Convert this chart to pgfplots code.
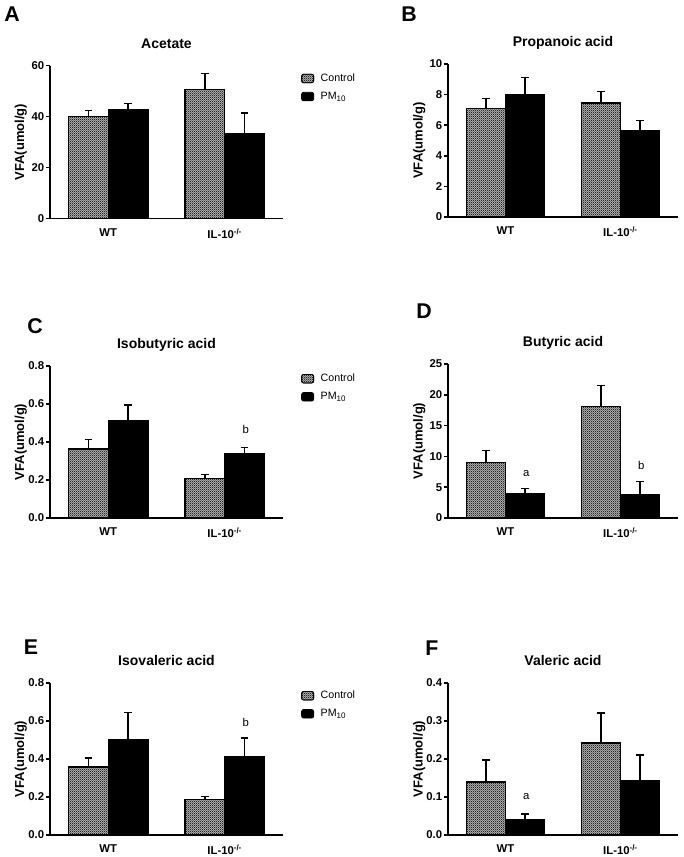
\documentclass[border=0pt]{standalone}
\usepackage{fontspec}
\setmainfont{Liberation Sans}
\setsansfont{Liberation Sans}
\usepackage{pgfplots}
\pgfplotsset{compat=1.18}
\usetikzlibrary{patterns}

% small grey checker used for the control bars
\pgfdeclarepatternformonly{checker}{\pgfpointorigin}{\pgfqpoint{1.6pt}{1.6pt}}{\pgfqpoint{1.6pt}{1.6pt}}{%
  \pgfpathrectangle{\pgfpointorigin}{\pgfqpoint{0.8pt}{0.8pt}}%
  \pgfpathrectangle{\pgfqpoint{0.8pt}{0.8pt}}{\pgfqpoint{0.8pt}{0.8pt}}%
  \pgfusepath{fill}}

% bars sit at -0.17/0.17 (WT) and 0.83/1.17 (IL-10-/-)
\pgfplotsset{
  vfa/.style={
    scale only axis,
    axis lines=left,
    axis line style={-, line width=1.1pt},
    xmin=-0.5, xmax=1.5, ymin=0,
    xtick={0,1}, xticklabels={WT, IL-10\textsuperscript{-/-}},
    xtick style={draw=none},
    ytick style={line width=1.1pt, black},
    tick align=outside, major tick length=3pt,
    tick label style={font=\bfseries\fontsize{8.5}{10}\selectfont},
    xticklabel style={yshift=-1pt},
    yticklabel style={inner sep=1.2pt},
    /pgf/number format/assume math mode=true,
    ylabel={VFA(umol/g)},
    ylabel style={font=\bfseries\fontsize{9.75}{11}\selectfont, at={(axis description cs:-0.125,0.5)}, anchor=center},
    title style={font=\bfseries\fontsize{10.5}{12}\selectfont, at={(axis description cs:0.5,1)}, anchor=base, yshift=7pt},
    clip=false,
  },
  withlegend/.style={
    legend style={at={(axis description cs:1.06,0.985)}, anchor=north west, draw=none, fill=none,
      font=\fontsize{8}{9.5}\selectfont, row sep=2.4pt,
      /tikz/every odd column/.append style={column sep=3pt}},
    legend cell align=left,
    legend image code/.code={\draw[line width=0.6pt, rounded corners=1.5pt] (0pt,-3.2pt) rectangle (9pt,3.2pt);},
  },
  errs/.style={error bars/.cd, y dir=plus, y explicit, error mark=-,
    error bar style={line width=1.1pt, black},
    error mark options={rotate=90, black, line width=1.1pt, mark size=2.9pt}},
  ctrl/.style={ybar, bar width=0.34, bar shift=0, draw=black, line width=1.1pt,
    fill=gray!60, postaction={pattern=checker, pattern color=black!85}, errs},
  pm/.style={ybar, bar width=0.34, bar shift=0, draw=black, line width=1.1pt, fill=black, errs},
}

\begin{document}
\begin{tikzpicture}
\path[use as bounding box] (0,0) rectangle (512.25pt,642.75pt);

% A
\begin{axis}[vfa, withlegend, at={(37.5pt,478.7pt)}, anchor=south west,
  width=174.75pt, height=114.75pt, ymax=60, ytick={0,20,40,60}, title={Acetate}]
\addplot[ctrl] coordinates {(-0.17,40.1) +- (0,2.4) (0.83,50.7) +- (0,6.2)};
\addplot[pm] coordinates {(0.17,42.7) +- (0,2.4) (1.17,33.2) +- (0,8.2)};
\legend{Control, PM\textsubscript{10}}
\end{axis}

% B
\begin{axis}[vfa, at={(336pt,480pt)}, anchor=south west,
  width=172.5pt, height=114.75pt, ymax=10, ytick={0,2,...,10}, title={Propanoic acid}]
\addplot[ctrl] coordinates {(-0.17,7.10) +- (0,0.63) (0.83,7.45) +- (0,0.74)};
\addplot[pm] coordinates {(0.17,8.02) +- (0,1.08) (1.17,5.66) +- (0,0.64)};
\end{axis}

% C
\begin{axis}[vfa, withlegend, at={(37.5pt,254.25pt)}, anchor=south west,
  width=174.75pt, height=114pt, ymax=0.8, ytick={0,0.2,...,0.8},
  yticklabel style={/pgf/number format/.cd, fixed, fixed zerofill, precision=1}, title={Isobutyric acid}]
\addplot[ctrl] coordinates {(-0.17,0.363) +- (0,0.051) (0.83,0.207) +- (0,0.023)};
\addplot[pm] coordinates {(0.17,0.514) +- (0,0.081) (1.17,0.340) +- (0,0.032)};
\legend{Control, PM\textsubscript{10}}
\node[font=\fontsize{8.5}{10}\selectfont] at (axis cs:1.18,0.465) {b};
\end{axis}

% D
\begin{axis}[vfa, at={(336pt,254.25pt)}, anchor=south west,
  width=172.5pt, height=115.5pt, ymax=25, ytick={0,5,...,25}, title={Butyric acid}]
\addplot[ctrl] coordinates {(-0.17,9.0) +- (0,1.95) (0.83,18.1) +- (0,3.4)};
\addplot[pm] coordinates {(0.17,4.0) +- (0,0.77) (1.17,3.8) +- (0,2.1)};
\node[font=\fontsize{8.5}{10}\selectfont] at (axis cs:0.18,7.2) {a};
\node[font=\fontsize{8.5}{10}\selectfont] at (axis cs:1.18,8.6) {b};
\end{axis}

% E
\begin{axis}[vfa, withlegend, at={(37.5pt,16.5pt)}, anchor=south west,
  width=174.75pt, height=114pt, ymax=0.8, ytick={0,0.2,...,0.8},
  yticklabel style={/pgf/number format/.cd, fixed, fixed zerofill, precision=1}, title={Isovaleric acid}]
\addplot[ctrl] coordinates {(-0.17,0.357) +- (0,0.048) (0.83,0.187) +- (0,0.016)};
\addplot[pm] coordinates {(0.17,0.499) +- (0,0.147) (1.17,0.410) +- (0,0.100)};
\legend{Control, PM\textsubscript{10}}
\node[font=\fontsize{8.5}{10}\selectfont] at (axis cs:1.18,0.595) {b};
\end{axis}

% F
\begin{axis}[vfa, at={(336pt,16.5pt)}, anchor=south west,
  width=172.5pt, height=114pt, ymax=0.4, ytick={0,0.1,...,0.4},
  yticklabel style={/pgf/number format/.cd, fixed, fixed zerofill, precision=1}, title={Valeric acid}]
\addplot[ctrl] coordinates {(-0.17,0.139) +- (0,0.058) (0.83,0.242) +- (0,0.079)};
\addplot[pm] coordinates {(0.17,0.041) +- (0,0.014) (1.17,0.144) +- (0,0.066)};
\node[font=\fontsize{8.5}{10}\selectfont] at (axis cs:0.18,0.10) {a};
\end{axis}

% panel letters
\begin{scope}[every node/.style={font=\bfseries\fontsize{16}{18}\selectfont}]
\node at (9pt,631.9pt) {A};
\node at (306.75pt,631.9pt) {B};
\node at (26.25pt,398.25pt) {C};
\node at (318pt,409.5pt) {D};
\node at (23.25pt,157.5pt) {E};
\node at (324pt,156.75pt) {F};
\end{scope}
\end{tikzpicture}
\end{document}
